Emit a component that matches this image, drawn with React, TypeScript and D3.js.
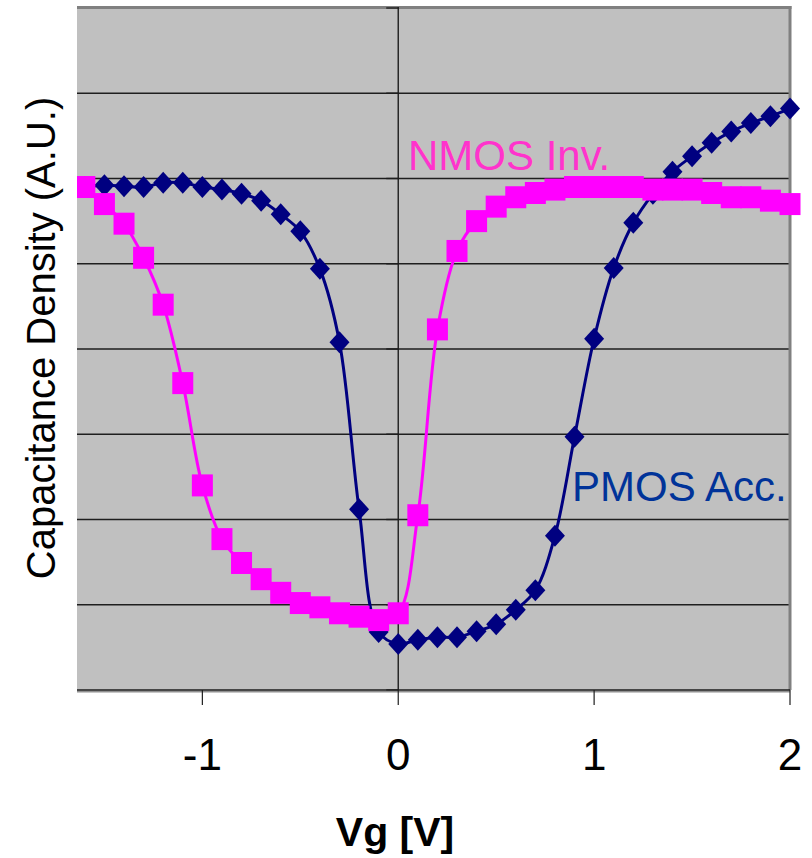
import React from "react";
import * as d3 from "d3";

const vg = [-1.6,-1.5,-1.4,-1.3,-1.2,-1.1,-1.0,-0.9,-0.8,-0.7,-0.6,-0.5,-0.4,-0.3,-0.2,-0.1,0.0,0.1,0.2,0.3,0.4,0.5,0.6,0.7,0.8,0.9,1.0,1.1,1.2,1.3,1.4,1.5,1.6,1.7,1.8,1.9,2.0];
const pmosAcc = [5.90,5.92,5.91,5.90,5.95,5.95,5.90,5.87,5.82,5.74,5.58,5.38,4.94,4.08,2.12,0.68,0.54,0.59,0.62,0.62,0.69,0.77,0.94,1.17,1.81,2.97,4.12,4.95,5.48,5.82,6.08,6.26,6.42,6.55,6.65,6.73,6.82];
const nmosInv = [5.90,5.70,5.47,5.07,4.52,3.60,2.40,1.77,1.49,1.30,1.14,1.02,0.97,0.90,0.86,0.82,0.90,2.05,4.23,5.15,5.50,5.67,5.78,5.83,5.87,5.90,5.90,5.90,5.90,5.87,5.87,5.87,5.83,5.78,5.78,5.74,5.70];
const xTicks = [-1, 0, 1, 2];
const yGrid = [0, 1, 2, 3, 4, 5, 6, 7, 8];

const W = 812, H = 858;
const L = 77, R = 790, T = 8, B = 690;
const FONT = "'Liberation Sans', Arial, sans-serif";

export default function App() {
  const x = d3.scaleLinear().domain([-1.64, 2.0]).range([L, R]);
  const y = d3.scaleLinear().domain([0, 8]).range([B, T]);
  const line = d3.line<[number, number]>()
    .x(d => x(d[0])).y(d => y(d[1]))
    .curve(d3.curveCatmullRom.alpha(0.5));
  const pPts: [number, number][] = vg.map((v, i) => [v, pmosAcc[i]]);
  const nPts: [number, number][] = vg.map((v, i) => [v, nmosInv[i]]);
  const x0 = x(0);
  return (
    <svg width={W} height={H} style={{ position: "absolute", left: 0, top: 0 }}>
      <rect x={0} y={0} width={W} height={H} fill="#fff" />
      <rect x={L} y={T} width={R - L} height={B - T} fill="#C0C0C0" />
      <defs>
        <clipPath id="clip"><rect x={L} y={T - 15} width={R - L + 20} height={B - T + 30} /></clipPath>
      </defs>
      {yGrid.slice(1, -1).map(g => (
        <line key={g} x1={L} x2={R} y1={y(g)} y2={y(g)} stroke="#1e1e1e" strokeWidth={1.4} />
      ))}
      {/* border top & right */}
      <line x1={L} x2={R + 1.5} y1={T - 0.5} y2={T - 0.5} stroke="#808080" strokeWidth={3} />
      <line x1={R} x2={R} y1={T - 2} y2={B} stroke="#808080" strokeWidth={3} />
      {/* y axis at x=0 */}
      <line x1={x0} x2={x0} y1={T - 1} y2={B} stroke="#1e1e1e" strokeWidth={1.4} />
      {yGrid.map(g => (
        <line key={"yt" + g} x1={x0 - 12} x2={x0} y1={y(g)} y2={y(g)} stroke="#1e1e1e" strokeWidth={1.4} />
      ))}
      {/* x axis */}
      <line x1={L} x2={R} y1={B + 1.5} y2={B + 1.5} stroke="#909090" strokeWidth={2} />
      <line x1={L} x2={R} y1={B} y2={B} stroke="#1e1e1e" strokeWidth={1.6} />
      {xTicks.map(t => (
        <g key={"xt" + t}>
          <line x1={x(t)} x2={x(t)} y1={B} y2={B + 15} stroke="#1e1e1e" strokeWidth={1.2} />
          <text x={x(t)} y={770} textAnchor="middle" fontFamily={FONT} fontSize={44} fill="#000">{t}</text>
        </g>
      ))}
      <g clipPath="url(#clip)">
        <path d={line(pPts) || ""} fill="none" stroke="#000080" strokeWidth={3} />
        {pPts.map((p, i) => {
          const cx = x(p[0]), cy = y(p[1]);
          return <path key={"pm" + i} d={`M${cx},${cy - 11}L${cx + 10},${cy}L${cx},${cy + 11}L${cx - 10},${cy}Z`} fill="#000080" />;
        })}
        <path d={line(nPts) || ""} fill="none" stroke="#FF00FF" strokeWidth={3} />
        {nPts.map((p, i) => {
          const cx = x(p[0]), cy = y(p[1]);
          return <rect key={"nm" + i} x={cx - 10.5} y={cy - 11} width={21} height={22} fill="#FF00FF" />;
        })}
      </g>
      <text x={408} y={170} fontFamily={FONT} fontSize={42} fill="#FF33CC">NMOS Inv.</text>
      <text x={572} y={501} fontFamily={FONT} fontSize={42} fill="#003399">PMOS Acc.</text>
      <text transform="translate(55,338) rotate(-90)" textAnchor="middle" fontFamily={FONT} fontSize={40} fill="#000">Capacitance Density (A.U.)</text>
      <text x={395} y={846} textAnchor="middle" fontFamily={FONT} fontSize={41} fontWeight="bold" fill="#000">Vg [V]</text>
    </svg>
  );
}
